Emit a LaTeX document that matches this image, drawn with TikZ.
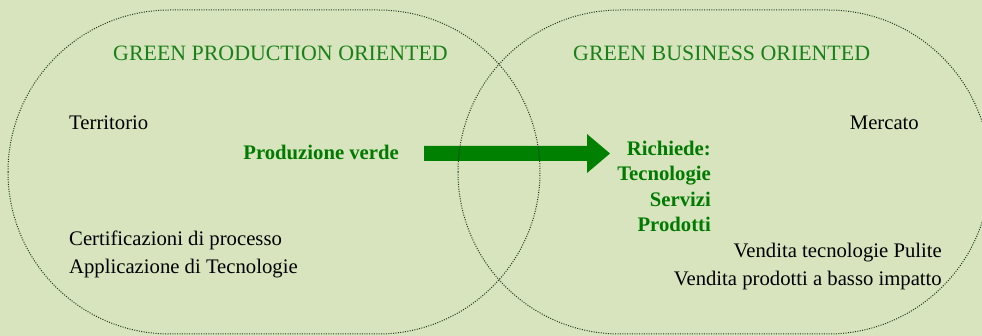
\documentclass[tikz,border=0pt]{standalone}
\usepackage{fontspec}
\setmainfont{Liberation Serif}
\definecolor{bgc}{HTML}{D7E4BD}
\definecolor{titlec}{HTML}{1A801A}
\definecolor{boldc}{HTML}{007A00}
\definecolor{arrowc}{HTML}{008000}
\definecolor{dotc}{HTML}{1E3A1E}
\begin{document}
\begin{tikzpicture}[x=1pt,y=-1pt,
  outline/.style={draw=dotc,line width=1pt,dash pattern=on 1pt off 1.4pt},
  txt/.style={inner sep=0pt,font=\fontsize{20.7}{24}\selectfont,text=black},
  ttl/.style={inner sep=0pt,font=\fontsize{21.9}{26}\selectfont,text=titlec},
  bld/.style={inner sep=0pt,font=\fontsize{20.7}{24}\bfseries\selectfont,text=boldc}]
\fill[bgc] (0,0) rectangle (982,336);
\useasboundingbox (0,0) rectangle (982,336);
% arrow
\coordinate (as) at (424,153.5);
\coordinate (ae) at (610,153.5);
\fill[arrowc] (as) ++(0,-7.5) -- ++(163,0) -- ++(0,-12) -- (ae) -- ++(-23,19.5) -- ++(0,-12) -- ++(-163,0) -- cycle;
% outlines
\draw[outline,rounded corners=162pt] (8,10) rectangle (540,334);
\draw[outline,rounded corners=162pt] (458,10) rectangle (990,334);
% texts
\node[ttl,anchor=base west] (t1) at (113,61) {GREEN PRODUCTION ORIENTED};
\node[ttl,anchor=base west] (t2) at (573,61) {GREEN BUSINESS ORIENTED};
\node[txt,anchor=base west] (terr) at (69,130) {Territorio};
\node[bld,anchor=base east] (prod) at (399,160) {Produzione verde};
\node[txt,anchor=base west] (cert) at (69,246) {Certificazioni di processo};
\node[txt,anchor=base west] (appl) at (69,274) {Applicazione di Tecnologie};
\node[txt,anchor=base east] (merc) at (919,130) {Mercato};
\node[bld,anchor=base east] (rich) at (711,156) {Richiede:};
\node[bld,anchor=base east] (tecn) at (711,181) {Tecnologie};
\node[bld,anchor=base east] (serv) at (711,207) {Servizi};
\node[bld,anchor=base east] (prdt) at (711,232) {Prodotti};
\node[txt,anchor=base east] (vtp) at (942,258) {Vendita tecnologie Pulite};
\node[txt,anchor=base east] (vpb) at (942,286) {Vendita prodotti a basso impatto};
\end{tikzpicture}
\end{document}
